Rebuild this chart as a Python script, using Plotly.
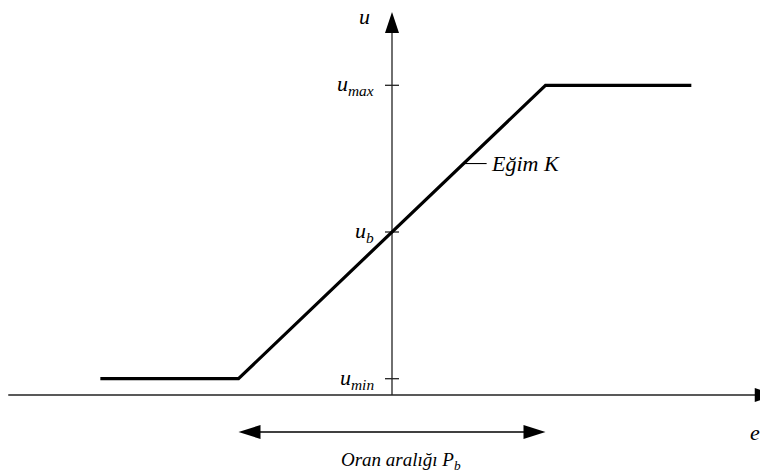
import plotly.graph_objects as go

# ---- data ----
e_curve = [-1.9, -1.0, 1.0, 1.95]
u_curve = [1.0, 1.0, 19.0, 19.0]
u_tick_values = [1.0, 10.0, 19.0]
u_tick_labels = ["<i>u</i><sub><i>min</i></sub>", "<i>u</i><sub><i>b</i></sub>", "<i>u</i><sub><i>max</i></sub>"]
pb_band = [-1.0, 1.0]
e_axis_extent = [-2.5, 2.5]
u_axis_top = 23.5
slope_label_u = 14.2

# ---- layout helpers ----
W, H = 768, 474
OFF = 8        # page body margin offset
PX_E = 153.5   # px per e unit
PX_U = 16.3    # px per u unit
X0 = 392 - OFF   # figure px of e = 0
Y0 = 395 - OFF   # figure px of u = 0
x_range = [-X0 / PX_E, (W - X0) / PX_E]
y_range = [-(H - Y0) / PX_U, Y0 / PX_U]

def dx(px):
    return px / PX_E

def dy(px):
    return px / PX_U

FONT = "Liberation Serif"
AX_COL = "#222222"

fig = go.Figure()

# horizontal axis
fig.add_trace(go.Scatter(x=[e_axis_extent[0], e_axis_extent[1] - dx(20)], y=[0, 0], mode="lines",
                         line=dict(color=AX_COL, width=1.3), hoverinfo="skip"))
tip = e_axis_extent[1]
fig.add_trace(go.Scatter(x=[tip, tip - dx(21), tip - dx(21), tip], y=[0, dy(7), -dy(7), 0],
                         mode="lines", fill="toself", fillcolor="black", line=dict(color="black", width=0),
                         hoverinfo="skip"))
# vertical axis
fig.add_trace(go.Scatter(x=[0, 0], y=[0, u_axis_top - dy(20)], mode="lines",
                         line=dict(color=AX_COL, width=1.3), hoverinfo="skip"))
fig.add_trace(go.Scatter(x=[0, -dx(7), dx(7), 0], y=[u_axis_top, u_axis_top - dy(21), u_axis_top - dy(21), u_axis_top],
                         mode="lines", fill="toself", fillcolor="black", line=dict(color="black", width=0),
                         hoverinfo="skip"))
# ticks
for v in u_tick_values:
    fig.add_trace(go.Scatter(x=[-dx(7), dx(7)], y=[v, v], mode="lines",
                             line=dict(color=AX_COL, width=1.3), hoverinfo="skip"))

# characteristic curve
fig.add_trace(go.Scatter(x=e_curve, y=u_curve, mode="lines",
                         line=dict(color="black", width=3.2), hoverinfo="skip"))

# slope leader line
e_on_curve = e_curve[1] + (slope_label_u - u_curve[1]) * (e_curve[2] - e_curve[1]) / (u_curve[2] - u_curve[1])
fig.add_trace(go.Scatter(x=[e_on_curve, e_on_curve + dx(23)], y=[slope_label_u, slope_label_u], mode="lines",
                         line=dict(color="black", width=1.1), hoverinfo="skip"))

# proportional band double arrow
yb = -dy(37)
fig.add_trace(go.Scatter(x=[pb_band[0] + dx(20), pb_band[1] - dx(20)], y=[yb, yb], mode="lines",
                         line=dict(color="black", width=1.3), hoverinfo="skip"))
for tipx, sgn in [(pb_band[0], 1), (pb_band[1], -1)]:
    fig.add_trace(go.Scatter(x=[tipx, tipx + sgn * dx(22), tipx + sgn * dx(22), tipx],
                             y=[yb, yb + dy(7), yb - dy(7), yb],
                             mode="lines", fill="toself", fillcolor="black", line=dict(color="black", width=0),
                             hoverinfo="skip"))

ann = []
fs = 22
for v, lab in zip(u_tick_values, u_tick_labels):
    ann.append(dict(x=0, y=v, text=lab, xref="x", yref="y", xanchor="right", yanchor="middle",
                    xshift=-16, showarrow=False, font=dict(family=FONT, size=fs, color="black")))
ann.append(dict(x=0, y=u_axis_top, text="<i>u</i>", xref="x", yref="y", xanchor="right", yanchor="middle",
                xshift=-20, yshift=-5, showarrow=False, font=dict(family=FONT, size=fs, color="black")))
ann.append(dict(x=e_on_curve + dx(23), y=slope_label_u, text="<i>Eğim K</i>", xref="x", yref="y",
                xanchor="left", yanchor="middle", xshift=2, showarrow=False,
                font=dict(family=FONT, size=fs, color="black")))
ann.append(dict(x=e_axis_extent[1] - dx(21), y=-dy(37), text="<i>e</i>", xref="x", yref="y",
                xanchor="center", yanchor="middle", showarrow=False, font=dict(family=FONT, size=fs, color="black")))
ann.append(dict(x=(pb_band[0] + pb_band[1]) / 2 + dx(9), y=yb - dy(29), text="<i>Oran aralığı P</i><sub><i>b</i></sub>",
                xref="x", yref="y", xanchor="center", yanchor="middle", showarrow=False,
                font=dict(family=FONT, size=19, color="black")))

fig.update_layout(
    width=W, height=H, margin=dict(l=0, r=0, t=0, b=0),
    paper_bgcolor="white", plot_bgcolor="white", showlegend=False,
    font=dict(family=FONT),
    xaxis=dict(range=x_range, visible=False, fixedrange=True),
    yaxis=dict(range=y_range, visible=False, fixedrange=True),
    annotations=ann,
)

fig.write_html("out.html")
